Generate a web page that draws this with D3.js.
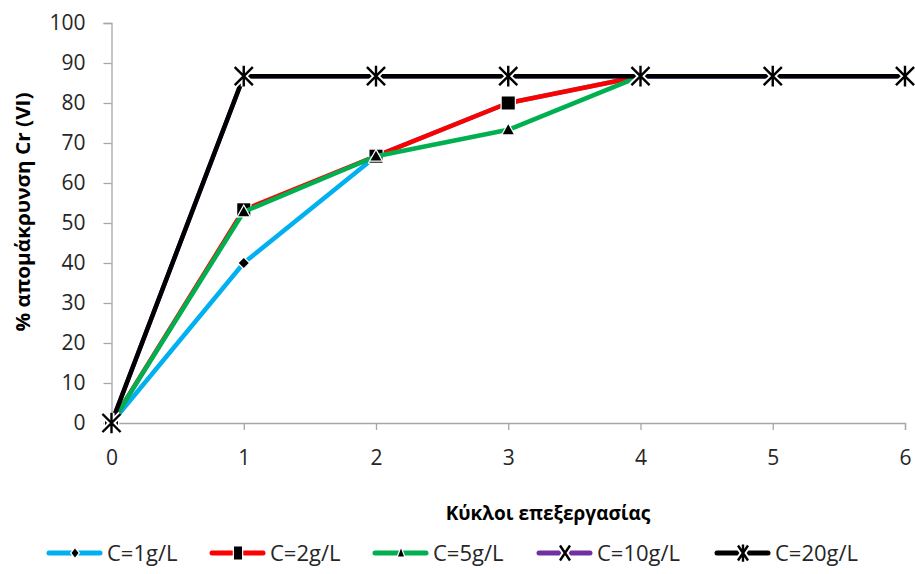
<!DOCTYPE html>
<html><head><meta charset="utf-8">
<script src="https://cdn.jsdelivr.net/npm/d3@7"></script>
<style>body{margin:0;background:#fff;} svg{display:block;}</style>
</head><body>
<svg id="c" width="915" height="574"></svg>
<script>
const cycles = [0,1,2,3,4,5,6];
const xTicks = [0,1,2,3,4,5,6];
const yTicks = [0,10,20,30,40,50,60,70,80,90,100];
const names = ["C=1g/L","C=2g/L","C=5g/L","C=10g/L","C=20g/L"];
const c1  = [0,40,66.7,80,86.7,86.7];
const c2  = [0,53.3,66.7,80,86.7];
const c5  = [0,52.8,66.7,73.3,86.7];
const c10 = [0,86.7,86.7,86.7,86.7,86.7,86.7];
const c20 = [0,86.7,86.7,86.7,86.7,86.7,86.7];
const colors = ["#00B0F0","#FF0000","#00B050","#7030A0","#000000"];
const markers = ["diamond","square","triangle","x","star"];
const seriesVals = [c1,c2,c5,c10,c20];

const svg = d3.select("#c");
const x = d3.scaleLinear().domain([0,6]).range([111.5,905]);
const y = d3.scaleLinear().domain([0,100]).range([423,23]);
const font = "'Open Sans', 'Noto Sans', sans-serif";

// axes
const yAx = svg.append("g").attr("transform","translate(111.5,0)")
  .call(d3.axisLeft(y).tickValues(yTicks).tickFormat(d3.format("d")).tickSize(8).tickPadding(18));
const xAx = svg.append("g").attr("transform","translate(0,423)")
  .call(d3.axisBottom(x).tickValues(xTicks).tickFormat(d3.format("d")).tickSize(7).tickPadding(20));
[yAx,xAx].forEach(g=>{
  g.select(".domain").attr("stroke","#A6A6A6").attr("stroke-width",1.3);
  g.selectAll(".tick line").attr("stroke","#A6A6A6").attr("stroke-width",1.3);
  g.selectAll(".tick text").attr("fill","#262626").style("font-family",font).style("font-size","21px");
});
xAx.selectAll(".tick").filter(d=>d===0).select("line").remove();

// titles
svg.append("text").attr("x",548).attr("y",520).attr("text-anchor","middle")
  .style("font-family",font).style("font-size","19px").style("font-weight","bold").attr("fill","#000")
  .text("Κύκλοι επεξεργασίας");
svg.append("text").attr("transform","translate(30,212) rotate(-90)").attr("text-anchor","middle")
  .attr("textLength",239).attr("lengthAdjust","spacingAndGlyphs")
  .style("font-family",font).style("font-size","20px").style("font-weight","bold").attr("fill","#000")
  .text("% απομάκρυνση Cr (VI)");

function drawMarker(g, type, cx, cy, s, sy){
  sy = sy || s;
  const m = g.append("g").attr("transform",`translate(${cx},${cy})`);
  if(type==="diamond"){
    m.append("path").attr("d",`M0,${-sy}L${s},0L0,${sy}L${-s},0Z`).attr("fill","#000").attr("stroke","#fff").attr("stroke-width",2.5).style("paint-order","stroke");
  } else if(type==="square"){
    m.append("rect").attr("x",-s).attr("y",-sy).attr("width",2*s).attr("height",2*sy).attr("fill","#000").attr("stroke","#fff").attr("stroke-width",2.5).style("paint-order","stroke");
  } else if(type==="triangle"){
    m.append("path").attr("d",`M0,${-sy}L${s},${sy*0.8}L${-s},${sy*0.8}Z`).attr("fill","#000").attr("stroke","#fff").attr("stroke-width",2.5).style("paint-order","stroke");
  } else {
    const d = type==="x" ? `M${-s},${-sy}L${s},${sy}M${s},${-sy}L${-s},${sy}` :
      `M${-s},${-sy}L${s},${sy}M${s},${-sy}L${-s},${sy}M0,${-sy*1.15}L0,${sy*1.15}`;
    m.append("path").attr("d",d).attr("stroke","#fff").attr("stroke-width",6).attr("fill","none");
    m.append("path").attr("d",d).attr("stroke","#000").attr("stroke-width",2.4).attr("fill","none");
  }
}
const msize = [5,6.5,5.5,9,9];

const line = d3.line().x((d,i)=>x(cycles[i])).y(d=>y(d));
seriesVals.forEach((vals,k)=>{
  const g = svg.append("g");
  g.append("path").datum(vals).attr("d",line).attr("fill","none")
    .attr("stroke",colors[k]).attr("stroke-width",4.5).attr("stroke-linejoin","round");
  vals.forEach((v,i)=>drawMarker(g, markers[k], x(cycles[i]), y(v), msize[k]));
});

// legend
const legX = [47,210,373,537,715];
const legS = [[3.5,4.5],[4,6.5],[3,4.5],[5,7.5],[5,7.5]];
names.forEach((n,k)=>{
  const g = svg.append("g").attr("transform",`translate(${legX[k]},553)`);
  g.append("line").attr("x1",2).attr("x2",53).attr("y1",0).attr("y2",0)
    .attr("stroke",colors[k]).attr("stroke-width",5).attr("stroke-linecap","round");
  drawMarker(g, markers[k], 28, 0, legS[k][0], legS[k][1]);
  g.append("text").attr("x",60).attr("y",8).style("font-family",font).style("font-size","22px")
    .attr("fill","#262626").text(n);
});
</script>
</body></html>
